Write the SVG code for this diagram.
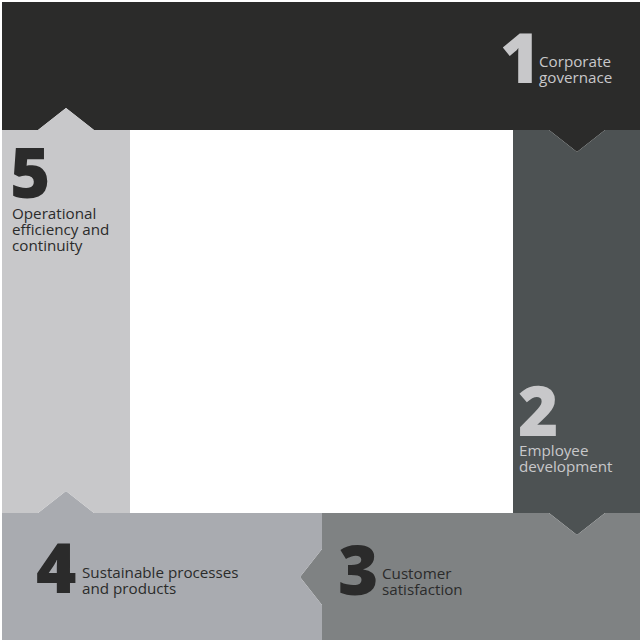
<svg xmlns="http://www.w3.org/2000/svg" width="640" height="640" viewBox="0 0 640 640">
<style>
.num{font-family:"Open Sans","Noto Sans","Liberation Sans",sans-serif;font-weight:800;font-size:69px}
.lbl{font-family:"Open Sans","Noto Sans","Liberation Sans",sans-serif;font-size:15.2px}
.light{fill:#c8c8ca}
.dark{fill:#2b2b2b}
</style>
<rect x="0" y="0" width="640" height="640" fill="#ffffff"/>
<g id="connectors"></g>
<g id="node1">
<path d="M2,2 H640 V130 H605 L577,152 L549,130 H94 L66,108 L38,130 H2 Z" fill="#2b2b2a"/>
<text class="num light" x="500" y="83">1</text>
<text class="lbl light" x="539" y="67">Corporate</text>
<text class="lbl light" x="539" y="83">governace</text>
</g>
<g id="node2">
<path d="M513,130 H549 L577,152 L605,130 H640 V513 H605 L577,535 L549,513 H513 Z" fill="#4d5253"/>
<text class="num light" x="518" y="436">2</text>
<text class="lbl light" x="519" y="456">Employee</text>
<text class="lbl light" x="519" y="472">development</text>
</g>
<g id="node3">
<path d="M322,513 H549 L577,535 L605,513 H640 V640 H322 V605 L300,577 L322,549 Z" fill="#7f8283"/>
<text class="num dark" x="338" y="595">3</text>
<text class="lbl dark" x="382" y="579">Customer</text>
<text class="lbl dark" x="382" y="595">satisfaction</text>
</g>
<g id="node4">
<path d="M2,513 H38 L66,491 L94,513 H322 V549 L300,577 L322,605 V640 H2 Z" fill="#a9abb0"/>
<text class="num dark" x="36" y="593">4</text>
<text class="lbl dark" x="82" y="578">Sustainable processes</text>
<text class="lbl dark" x="82" y="594">and products</text>
</g>
<g id="node5">
<path d="M2,130 H38 L66,108 L94,130 H130 V513 H94 L66,491 L38,513 H2 Z" fill="#c8c8ca"/>
<text class="num dark" x="10" y="198">5</text>
<text class="lbl dark" x="12" y="219">Operational</text>
<text class="lbl dark" x="12" y="235">efficiency and</text>
<text class="lbl dark" x="12" y="251">continuity</text>
</g>
</svg>
